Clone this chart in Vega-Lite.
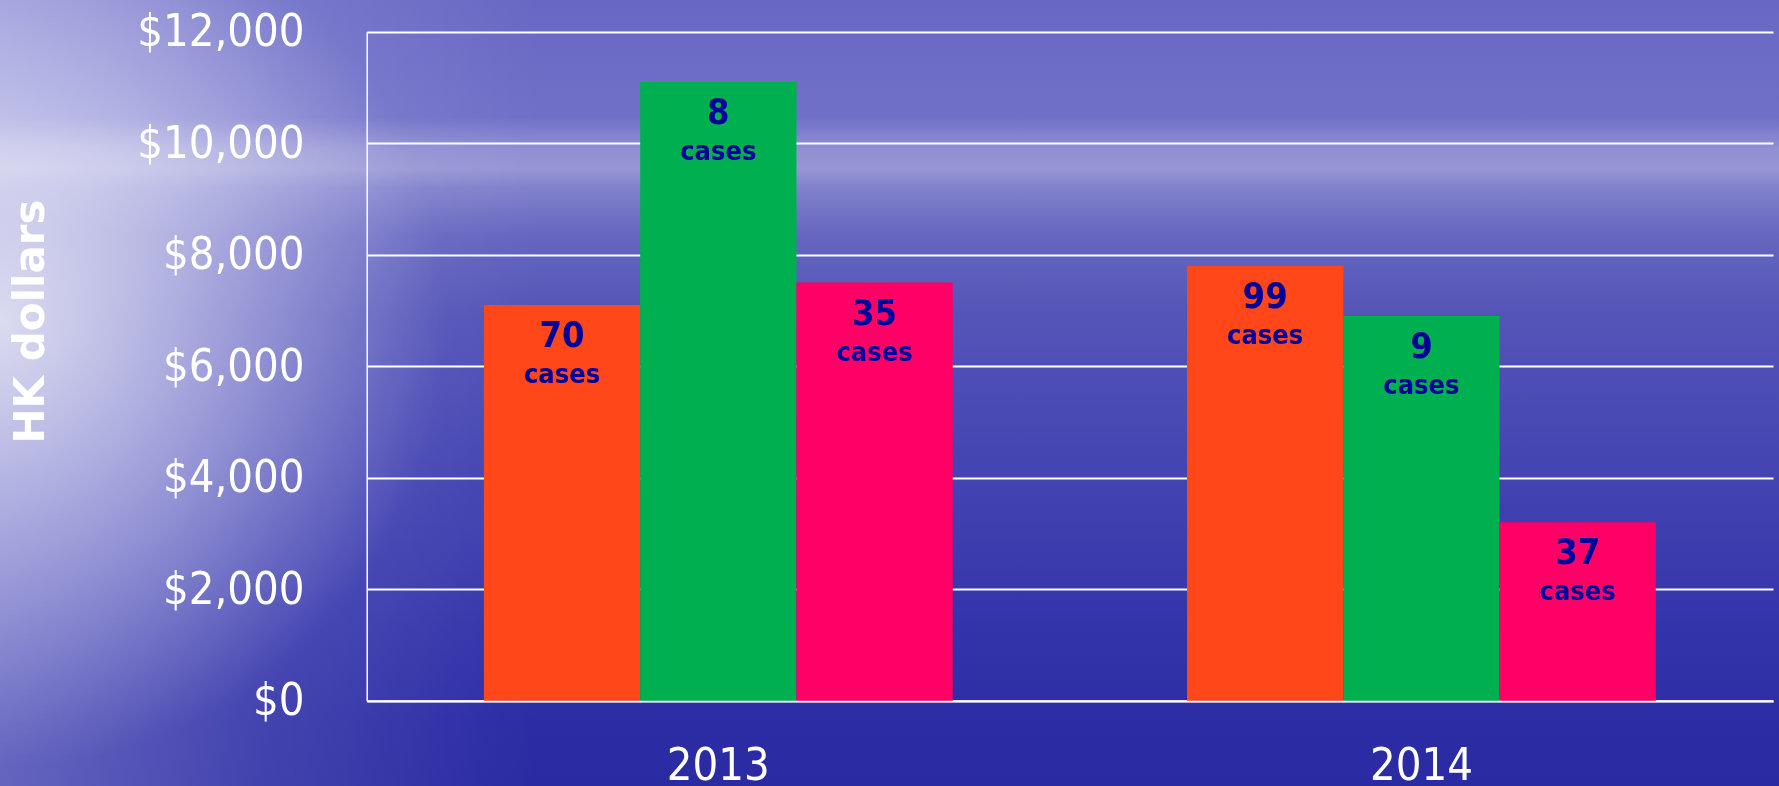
{
  "$schema": "https://vega.github.io/schema/vega-lite/v6.json",
  "width": 1779,
  "height": 786,
  "autosize": {"type": "none"},
  "padding": 0,
  "background": "#000000",
  "config": {"view": {"stroke": null}},
  "datasets": {
    "costs": [
      {"year": "2013", "series": "Series 1", "amount": 7100, "cases": 70},
      {"year": "2013", "series": "Series 2", "amount": 11100, "cases": 8},
      {"year": "2013", "series": "Series 3", "amount": 7500, "cases": 35},
      {"year": "2014", "series": "Series 1", "amount": 7800, "cases": 99},
      {"year": "2014", "series": "Series 2", "amount": 6900, "cases": 9},
      {"year": "2014", "series": "Series 3", "amount": 3200, "cases": 37}
    ]
  },
  "layer": [
    {
      "data": {"values": [{}]},
      "mark": {
        "type": "rect",
        "blend": "screen",
        "color": {
          "gradient": "linear",
          "x1": 0, "y1": 0, "x2": 0, "y2": 1,
          "stops": [
            {"offset": 0, "color": "#6868c4"},
            {"offset": 0.15, "color": "#7070c8"},
            {"offset": 0.19, "color": "#9090d2"},
            {"offset": 0.215, "color": "#9696d4"},
            {"offset": 0.24, "color": "#8080cc"},
            {"offset": 0.3, "color": "#6666c0"},
            {"offset": 0.4, "color": "#5454b8"},
            {"offset": 0.6, "color": "#4444b2"},
            {"offset": 0.8, "color": "#3434aa"},
            {"offset": 0.92, "color": "#2c2ca4"},
            {"offset": 1, "color": "#2a2aa2"}
          ]
        }
      },
      "encoding": {}
    },
    {
      "data": {"values": [{}]},
      "mark": {
        "type": "rect",
        "blend": "screen",
        "color": {
          "gradient": "linear",
          "x1": 0, "y1": 0, "x2": 0.3, "y2": 0,
          "stops": [
            {"offset": 0, "color": "#464650"},
            {"offset": 0.5, "color": "#1c1c20"},
            {"offset": 1, "color": "#000000"}
          ]
        }
      },
      "encoding": {}
    },
    {
      "data": {"values": [{}]},
      "mark": {
        "type": "rect",
        "blend": "screen",
        "color": {
          "gradient": "radial",
          "x1": 0, "y1": 0.46, "r1": 0,
          "x2": 0, "y2": 0.46, "r2": 0.25,
          "stops": [
            {"offset": 0, "color": "#b4b4b4"},
            {"offset": 0.5, "color": "#5a5a60"},
            {"offset": 1, "color": "#000000"}
          ]
        }
      },
      "encoding": {}
    },
    {
      "data": {"name": "costs"},
      "mark": {"type": "bar"},
      "encoding": {
        "x": {
          "field": "year",
          "type": "nominal",
          "scale": {"range": [366.7, 1773], "paddingInner": 0.3333, "paddingOuter": 0.1667},
          "axis": {
            "title": null,
            "orient": "bottom",
            "offset": -85.3,
            "ticks": false,
            "labelAngle": 0,
            "labelPadding": 79,
            "labelBaseline": "alphabetic",
            "labelFont": "DejaVu Sans Condensed, Liberation Sans Narrow, DejaVu Sans",
            "labelFontSize": 45,
            "labelColor": "white",
            "domainColor": "white",
            "domainWidth": 2,
            "grid": false
          }
        },
        "xOffset": {"field": "series", "type": "nominal"},
        "y": {
          "field": "amount",
          "type": "quantitative",
          "scale": {"domain": [0, 12000], "range": [700.7, 31.7], "nice": false},
          "axis": {
            "title": "HK dollars",
            "orient": "left",
            "offset": -366.7,
            "values": [0, 2000, 4000, 6000, 8000, 10000, 12000],
            "format": "$,.0f",
            "ticks": false,
            "labelPadding": 62.7,
            "labelFont": "DejaVu Sans Condensed, Liberation Sans Narrow, DejaVu Sans",
            "labelFontSize": 45,
            "labelColor": "white",
            "labelBaseline": "middle",
            "domainColor": "white",
            "domainWidth": 1.5,
            "grid": true,
            "gridColor": "white",
            "gridWidth": 2,
            "gridOpacity": 1,
            "titleFont": "DejaVu Sans",
            "titleFontWeight": "bold",
            "titleFontSize": 42,
            "titleColor": "#ffffff",
            "titleAngle": 270,
            "titleAlign": "center",
            "titleBaseline": "middle",
            "titleX": -336,
            "titleY": 321
          }
        },
        "color": {
          "field": "series",
          "type": "nominal",
          "scale": {"domain": ["Series 1", "Series 2", "Series 3"], "range": ["#FF4719", "#00B050", "#FF0066"]},
          "legend": null
        }
      }
    },
    {
      "data": {"name": "costs"},
      "mark": {
        "type": "text",
        "dy": 31,
        "baseline": "middle",
        "align": "center",
        "font": "DejaVu Sans Condensed, Liberation Sans Narrow, DejaVu Sans",
        "fontWeight": "bold",
        "fontSize": 36,
        "color": "#00009a"
      },
      "encoding": {
        "x": {"field": "year", "type": "nominal"},
        "xOffset": {"field": "series", "type": "nominal"},
        "y": {"field": "amount", "type": "quantitative"},
        "text": {"field": "cases", "type": "quantitative"}
      }
    },
    {
      "data": {"name": "costs"},
      "mark": {
        "type": "text",
        "dy": 70,
        "baseline": "middle",
        "align": "center",
        "font": "DejaVu Sans Condensed, Liberation Sans Narrow, DejaVu Sans",
        "fontWeight": "bold",
        "fontSize": 27,
        "color": "#00009a"
      },
      "encoding": {
        "x": {"field": "year", "type": "nominal"},
        "xOffset": {"field": "series", "type": "nominal"},
        "y": {"field": "amount", "type": "quantitative"},
        "text": {"value": "cases"}
      }
    }
  ]
}
